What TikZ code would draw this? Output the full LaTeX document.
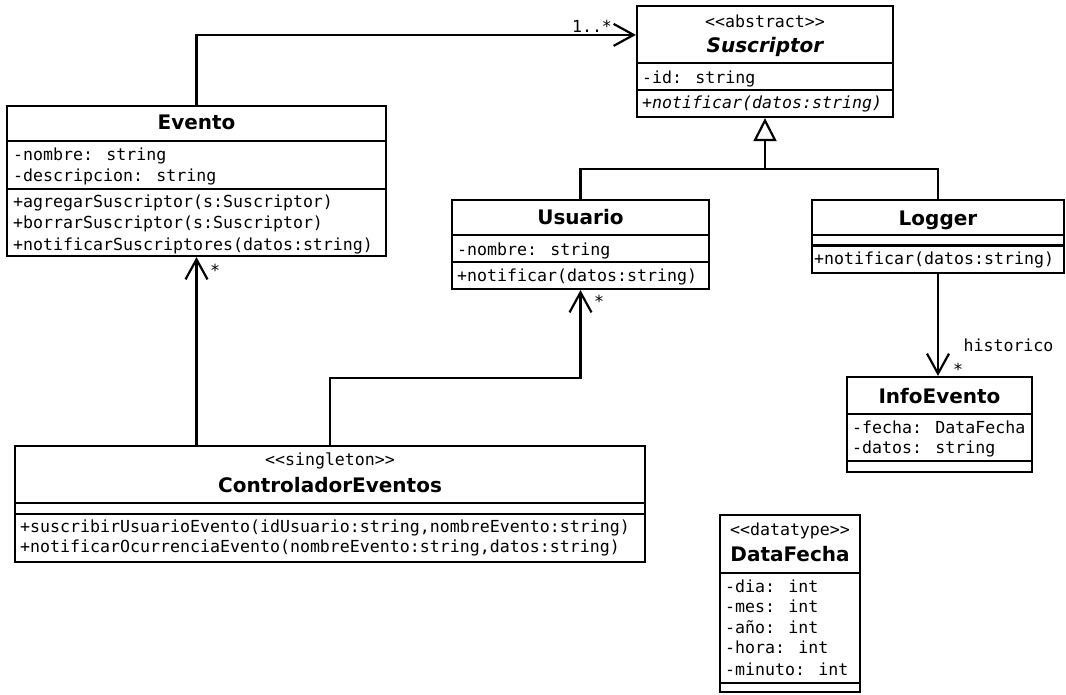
\documentclass[tikz,border=0pt]{standalone}
\usepackage{fontspec}
\setsansfont{DejaVu Sans}
\newfontfamily\umlmono{DejaVu Sans Mono}
\usetikzlibrary{arrows.meta,calc}
\begin{document}
\begin{tikzpicture}[x=1pt,y=-1pt,
  cls/.style={draw, line width=2.2pt, rectangle, inner sep=0pt},
  mono/.style={inner sep=0pt, font=\umlmono\fontsize{16.6}{20}\selectfont},
  att/.style={mono, anchor=base west},
  ster/.style={mono, anchor=base},
  ttl/.style={inner sep=0pt, anchor=base, font=\sffamily\bfseries\fontsize{20}{24}\selectfont},
  div/.style={line width=2.2pt},
  conn/.style={line width=2.2pt},
  assoc/.style={conn, -{Straight Barb[length=20pt,width=22pt]}},
  gen/.style={conn, -{Triangle[open,length=23pt,width=23pt,fill=white]}}
]
\useasboundingbox (0,0) rectangle (1066,694);

% ---------- Suscriptor ----------
\node[cls, minimum width=256pt, minimum height=111pt] (suscriptor) at (765,61.5) {};
\draw[div] (637,63) -- (893,63);
\draw[div] (637,90) -- (893,90);
\node[ster] (sus-st) at (765,27) {<<abstract>>};
\node[ttl, font=\sffamily\bfseries\itshape\fontsize{20}{24}\selectfont] (sus-t) at (765,52) {Suscriptor};
\node[att] (sus-a1) at (642,83) {-id: string};
\node[att, font=\umlmono\itshape\fontsize{16.6}{20}\selectfont] (sus-m1) at (642,108) {+notificar(datos:string)};

% ---------- Evento ----------
\node[cls, minimum width=379pt, minimum height=150pt] (evento) at (196.5,181) {};
\draw[div] (7,141) -- (386,141);
\draw[div] (7,189) -- (386,189);
\node[ttl] (ev-t) at (196.5,129) {Evento};
\node[att] (ev-a1) at (13,160) {-nombre: string};
\node[att] (ev-a2) at (13,181) {-descripcion: string};
\node[att] (ev-m1) at (13,207) {+agregarSuscriptor(s:Suscriptor)};
\node[att] (ev-m2) at (13,228.5) {+borrarSuscriptor(s:Suscriptor)};
\node[att] (ev-m3) at (13,250) {+notificarSuscriptores(datos:string)};

% ---------- Usuario ----------
\node[cls, minimum width=257pt, minimum height=89pt] (usuario) at (580.5,244.5) {};
\draw[div] (452,235) -- (709,235);
\draw[div] (452,262) -- (709,262);
\node[ttl] (us-t) at (580.5,224) {Usuario};
\node[att] (us-a1) at (457,255) {-nombre: string};
\node[att] (us-m1) at (457,281) {+notificar(datos:string)};

% ---------- Logger ----------
\node[cls, minimum width=252pt, minimum height=73pt] (logger) at (938,236.5) {};
\draw[div] (812,235) -- (1064,235);
\draw[div] (812,245.5) -- (1064,245.5);
\node[ttl] (lg-t) at (938,225) {Logger};
\node[att] (lg-m1) at (814,264) {+notificar(datos:string)};

% ---------- InfoEvento ----------
\node[cls, minimum width=185pt, minimum height=95pt] (infoevento) at (939.5,424.5) {};
\draw[div] (847,414) -- (1032,414);
\draw[div] (847,461) -- (1032,461);
\node[ttl] (ie-t) at (939.5,403) {InfoEvento};
\node[att] (ie-a1) at (852,433) {-fecha: DataFecha};
\node[att] (ie-a2) at (852,453) {-datos: string};

% ---------- ControladorEventos ----------
\node[cls, minimum width=630pt, minimum height=116pt] (controlador) at (330,504) {};
\draw[div] (15,503) -- (645,503);
\draw[div] (15,514) -- (645,514);
\node[ster] (ce-st) at (330,465) {<<singleton>>};
\node[ttl] (ce-t) at (330,492) {ControladorEventos};
\node[att] (ce-m1) at (20,532) {+suscribirUsuarioEvento(idUsuario:string,nombreEvento:string)};
\node[att] (ce-m2) at (20,552) {+notificarOcurrenciaEvento(nombreEvento:string,datos:string)};

% ---------- DataFecha ----------
\node[cls, minimum width=140pt, minimum height=177pt] (datafecha) at (790,603.5) {};
\draw[div] (720,573) -- (860,573);
\draw[div] (720,683) -- (860,683);
\node[ster] (df-st) at (790,535) {<<datatype>>};
\node[ttl] (df-t) at (790,561) {DataFecha};
\node[att] (df-a1) at (725,592) {-dia: int};
\node[att] (df-a2) at (725,612.5) {-mes: int};
\node[att] (df-a3) at (725,633) {-año: int};
\node[att] (df-a4) at (725,653.5) {-hora: int};
\node[att] (df-a5) at (725,675) {-minuto: int};

% ---------- Connectors ----------
% Evento -> Suscriptor
\draw[assoc] (evento.north) |- ($(suscriptor.north west)+(0,30)$);
\node[mono, anchor=base] (lbl-1n) at (592,32) {1..*};

% Generalization
\coordinate (gj) at ($(suscriptor.south)+(0,51)$);
\draw[conn] (usuario.north) |- (gj);
\draw[conn] (logger.north) |- (gj);
\draw[gen] (gj) -- (suscriptor.south);

% Logger -> InfoEvento
\draw[assoc] (logger.south) -- (logger.south |- infoevento.north);
\node[mono, anchor=base] (lbl-hist) at (1008.5,351) {historico};
\node[mono, anchor=base] (lbl-s3) at (958,375) {*};

% Controlador -> Evento
\draw[assoc] (evento.south |- controlador.north) -- (evento.south);
\node[mono, anchor=base] (lbl-s1) at (215,276) {*};

% Controlador -> Usuario
\draw[assoc] (controlador.north) |- ($(usuario.south)+(0,88)$) -- (usuario.south);
\node[mono, anchor=base] (lbl-s2) at (599,307) {*};
\end{tikzpicture}
\end{document}
